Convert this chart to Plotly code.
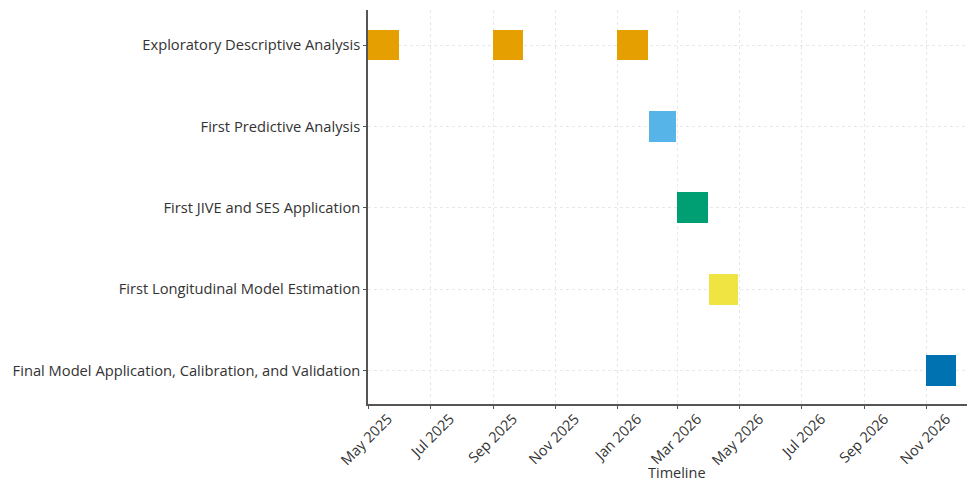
import plotly.graph_objects as go
import pandas as pd

tasks = [
    "Exploratory Descriptive Analysis",
    "Exploratory Descriptive Analysis",
    "Exploratory Descriptive Analysis",
    "First Predictive Analysis",
    "First JIVE and SES Application",
    "First Longitudinal Model Estimation",
    "Final Model Application, Calibration, and Validation",
]
starts = ["2025-05-01", "2025-09-01", "2026-01-01", "2026-02-01", "2026-03-01", "2026-04-01", "2026-11-01"]
ends = ["2025-05-31", "2025-09-30", "2026-01-31", "2026-02-28", "2026-03-31", "2026-04-30", "2026-11-30"]
colors = ["#E69F00", "#E69F00", "#E69F00", "#56B4E9", "#009E73", "#F0E442", "#0072B2"]

categories = [
    "Exploratory Descriptive Analysis",
    "First Predictive Analysis",
    "First JIVE and SES Application",
    "First Longitudinal Model Estimation",
    "Final Model Application, Calibration, and Validation",
]
x_ticks = ["2025-05-01", "2025-07-01", "2025-09-01", "2025-11-01", "2026-01-01",
           "2026-03-01", "2026-05-01", "2026-07-01", "2026-09-01", "2026-11-01"]

s = pd.to_datetime(starts)
e = pd.to_datetime(ends)
dur_ms = [(b - a).total_seconds() * 1000 for a, b in zip(s, e)]
ypos = [categories.index(t) for t in tasks]

fig = go.Figure()
fig.add_trace(go.Bar(
    y=ypos, x=dur_ms, base=[str(d.date()) for d in s],
    orientation="h", marker=dict(color=colors, line=dict(width=0)),
    width=0.38, showlegend=False,
))

# page body has an 8px default margin; compensate so the plot lands where the reference has it
W, H = 967, 475
L, T = 360, 2
B = 79
R = 5
plot_h = H - T - B

font = "Open Sans, sans-serif"
fig.update_layout(
    width=W, height=H,
    margin=dict(l=L, r=R, t=T, b=B),
    plot_bgcolor="white", paper_bgcolor="white",
    font=dict(family=font, size=13, color="#333"),
    xaxis=dict(
        type="date",
        range=["2025-05-01", "2026-12-14"],
        tickvals=x_ticks,
        tickformat="%b %Y",
        tickangle=-45,
        ticklabelshift=20,
        ticklabelstandoff=-4,
        showgrid=True, gridcolor="#e8e8e8", griddash="dot", gridwidth=1,
        showline=True, linecolor="#555", linewidth=1.5,
        ticks="outside", ticklen=3, tickcolor="#555",
        tickfont=dict(size=14.5),
        automargin=False,
        zeroline=False,
    ),
    yaxis=dict(
        range=[4.41, -0.43],
        tickvals=list(range(len(categories))),
        ticktext=categories,
        showgrid=True, gridcolor="#e8e8e8", griddash="dot", gridwidth=1,
        showline=True, linecolor="#555", linewidth=1.5,
        ticks="outside", ticklen=3, tickcolor="#555",
        tickfont=dict(size=14.7),
        automargin=False,
        zeroline=False,
    ),
    annotations=[dict(
        text="Timeline", xref="paper", yref="paper",
        x=(677 - 368) / (970 - 368), y=-(473 - 404) / plot_h,
        xanchor="center", yanchor="middle", showarrow=False,
        font=dict(size=14.5, color="#333"),
    )],
    bargap=0,
)

fig.write_html("out.html")
